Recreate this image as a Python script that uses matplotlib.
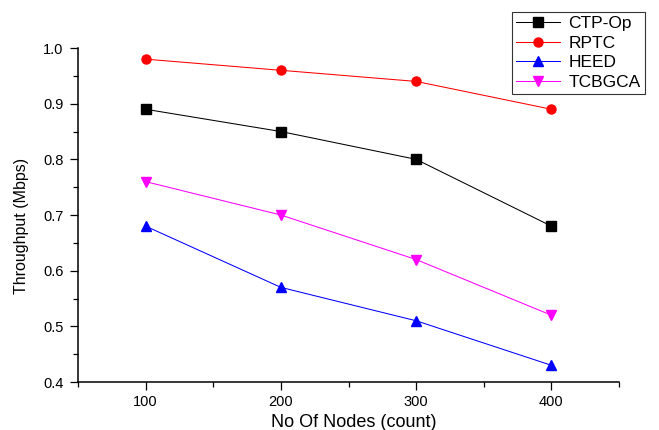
import matplotlib.pyplot as plt
from matplotlib.ticker import MultipleLocator

plt.rcParams['font.family'] = ['Liberation Sans', 'DejaVu Sans']

# ==========================================
# Adatok
# ==========================================
nodes = [100, 200, 300, 400]
ctp_op = [0.89, 0.85, 0.80, 0.68]
rptc = [0.98, 0.96, 0.94, 0.89]
heed = [0.68, 0.57, 0.51, 0.43]
tcbgca = [0.76, 0.70, 0.62, 0.52]

series = [
    ("CTP-Op", ctp_op, 'black', 's'),
    ("RPTC", rptc, 'red', 'o'),
    ("HEED", heed, 'blue', '^'),
    ("TCBGCA", tcbgca, 'magenta', 'v'),
]

fig = plt.figure(figsize=(6.59, 4.30), dpi=100)
ax = fig.add_axes([0.1184, 0.1116, 0.821, 0.7767])

for name, vals, col, mk in series:
    ax.plot(nodes, vals, color=col, linewidth=0.75, marker=mk, markersize=6.5,
            markerfacecolor=col, markeredgecolor=col, label=name)

ax.set_xlim(50, 450)
ax.set_ylim(0.4, 1.0)
ax.xaxis.set_major_locator(MultipleLocator(100))
ax.xaxis.set_minor_locator(MultipleLocator(50))
ax.yaxis.set_major_locator(MultipleLocator(0.1))
ax.yaxis.set_minor_locator(MultipleLocator(0.05))
ax.yaxis.set_major_formatter(plt.FuncFormatter(lambda v, p: f"{v:.1f}"))

ax.spines['top'].set_visible(False)
ax.spines['right'].set_visible(False)
ax.spines['left'].set_linewidth(1.1)
ax.spines['bottom'].set_linewidth(1.1)
ax.tick_params(which='major', direction='out', length=5.5, width=0.9, labelsize=10.5)
ax.tick_params(which='minor', direction='out', length=3.5, width=0.9)
ax.tick_params(axis='x', which='major', pad=4)
ax.tick_params(axis='y', which='major', pad=5)

ax.set_xlabel("No Of Nodes (count)", fontsize=13)
ax.xaxis.set_label_coords(0.51, -0.096)
ax.set_ylabel("Throughput (Mbps)", fontsize=11.5, va='center')
ax.yaxis.set_label_coords(-0.105, 0.467)

leg = ax.legend(loc='upper left', bbox_to_anchor=(512 / 659, 1 - 12 / 430),
                bbox_transform=fig.transFigure, fontsize=12.5, frameon=True,
                fancybox=False, edgecolor='black', handlelength=2.5,
                labelspacing=0.25, borderpad=0.25, handletextpad=0.5,
                borderaxespad=0)
leg.get_frame().set_linewidth(0.8)

fig.savefig("out.png", dpi=100)
